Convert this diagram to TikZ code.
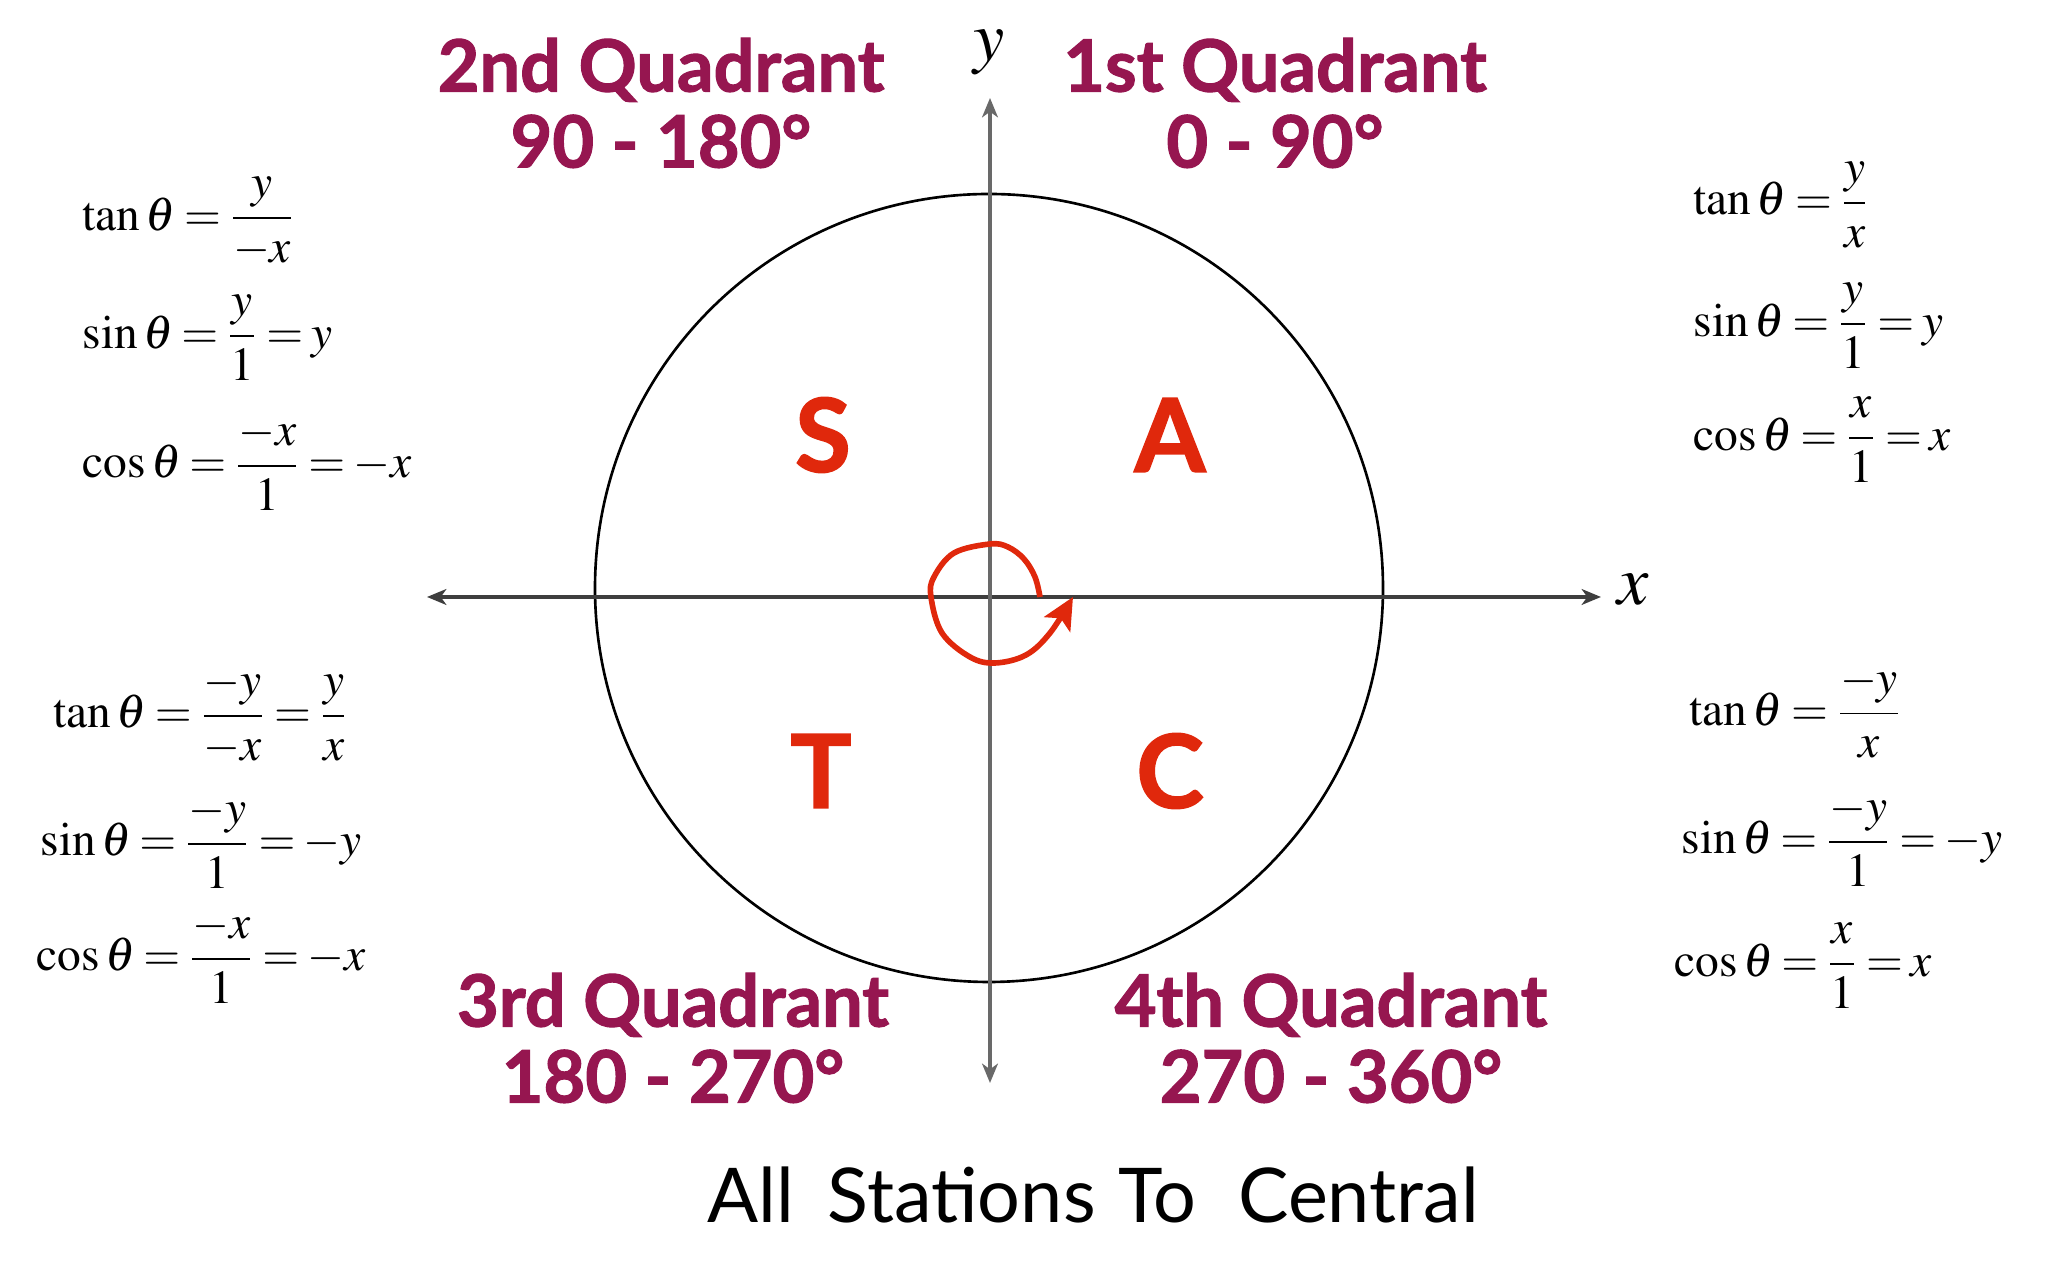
\documentclass[tikz,border=0pt]{standalone}
\usepackage{mathptmx}
\usepackage{fontspec}
\setmainfont{Liberation Serif}
\setsansfont{Lato}
\newfontfamily\quadfont{Lato}[BoldFeatures={FakeBold=1.6}]
\usetikzlibrary{arrows.meta}
\definecolor{quadmaroon}{RGB}{150,22,80}
\definecolor{letterred}{RGB}{224,40,12}
\definecolor{axisdark}{RGB}{62,62,62}
\definecolor{axisgray}{RGB}{105,105,105}
\thickmuskip=3mu plus 1mu
\begin{document}
\begin{tikzpicture}[
	formula/.style={font=\fontsize{13.5}{16}\selectfont, inner sep=0pt},
	quadlabel/.style={font=\quadfont\bfseries\fontsize{20.5}{21.6}\selectfont, text=quadmaroon, align=center},
	cast/.style={font=\quadfont\bfseries\fontsize{29}{32}\selectfont, text=letterred},
	axistip/.style={>={Stealth[length=5.5pt,width=4.5pt,inset=1.6pt]}}
	]
		\useasboundingbox (0,0) rectangle (20.48,-12.8);
		%axes and unit circle
		\coordinate (O) at (9.90,-5.97);
		\coordinate (cc) at (9.89,-5.88);
		\coordinate (xl) at (4.27,-5.97);
		\coordinate (xr) at (16.01,-5.97);
		\coordinate (yt) at (9.90,-0.98);
		\coordinate (yb) at (9.90,-10.83);
		\draw[line width=0.75pt] (cc) circle (3.94);
		\draw[axistip,<->,axisdark,line width=0.95pt] (xl) -- (xr);
		\draw[axistip,<->,axisgray,line width=0.95pt] (yb) -- (yt);
		\node (xlab) at (16.33,-5.90) {\fontsize{20}{20}\selectfont$x$};
		\node (ylab) at (9.89,-0.52) {\fontsize{20}{20}\selectfont$y$};
		%rotation
		\begin{scope}[shift={(O)}]
		\draw[letterred,line width=1.6pt,-{Stealth[length=9pt,width=8.5pt,inset=2pt]}] plot[smooth,tension=0.6] coordinates {
			(0.50,0) (0.45,0.20) (0.34,0.38) (0.18,0.50) (0,0.53)
			(-0.36,0.44) (-0.56,0.20) (-0.59,0) (-0.48,-0.36)
			(-0.2,-0.6) (0.05,-0.66) (0.36,-0.58) (0.60,-0.36) (0.83,0)};
		\end{scope}
		%quadrant headings
		\node[quadlabel] (q2) at (6.61,-1.03) {2nd Quadrant\\90 - 180°};
		\node[quadlabel] (q1) at (12.75,-1.03) {1st Quadrant\\0 - 90°};
		\node[quadlabel] (q3) at (6.73,-10.38) {3rd Quadrant\\180 - 270°};
		\node[quadlabel] (q4) at (13.31,-10.38) {4th Quadrant\\270 - 360°};
		%ASTC
		\node[cast] (S) at (8.23,-4.35) {S};
		\node[cast] (A) at (11.70,-4.35) {A};
		\node[cast] (T) at (8.21,-7.71) {T};
		\node[cast] (C) at (11.70,-7.71) {C};
		\node[font=\sffamily\fontsize{21.5}{24}\selectfont] (astc) at (10.93,-11.95) {All\hspace{0.45em}Stations\hspace{0.3em}To\hspace{0.55em}Central};
		%2nd quadrant
		\node[formula,anchor=west] (tanII) at (0.82,-2.22) {$\displaystyle\tan\theta=\frac{y}{-x}$};
		\node[formula,anchor=west] (sinII) at (0.82,-3.38) {$\displaystyle\sin\theta=\frac{y}{1}=y$};
		\node[formula,anchor=west] (cosII) at (0.82,-4.64) {$\displaystyle\cos\theta=\frac{-x}{1}=-x$};
		%1st quadrant
		\node[formula,anchor=west] (tanI) at (16.93,-2.05) {$\displaystyle\tan\theta=\frac{y}{x}$};
		\node[formula,anchor=west] (sinI) at (16.93,-3.26) {$\displaystyle\sin\theta=\frac{y}{1}=y$};
		\node[formula,anchor=west] (cosI) at (16.93,-4.40) {$\displaystyle\cos\theta=\frac{x}{1}=x$};
		%3rd quadrant
		\node[formula] (tanIII) at (2.01,-7.16) {$\displaystyle\tan\theta=\frac{-y}{-x}=\frac{y}{x}$};
		\node[formula] (sinIII) at (2.01,-8.42) {$\displaystyle\sin\theta=\frac{-y}{1}=-y$};
		\node[formula] (cosIII) at (2.01,-9.57) {$\displaystyle\cos\theta=\frac{-x}{1}=-x$};
		%4th quadrant
		\node[formula,anchor=west] (tanIV) at (16.89,-7.12) {$\displaystyle\tan\theta=\frac{-y}{x}$};
		\node[formula,anchor=west] (sinIV) at (16.81,-8.40) {$\displaystyle\sin\theta=\frac{-y}{1}=-y$};
		\node[formula,anchor=west] (cosIV) at (16.74,-9.66) {$\displaystyle\cos\theta=\frac{x}{1}=x$};
	\end{tikzpicture}
\end{document}
